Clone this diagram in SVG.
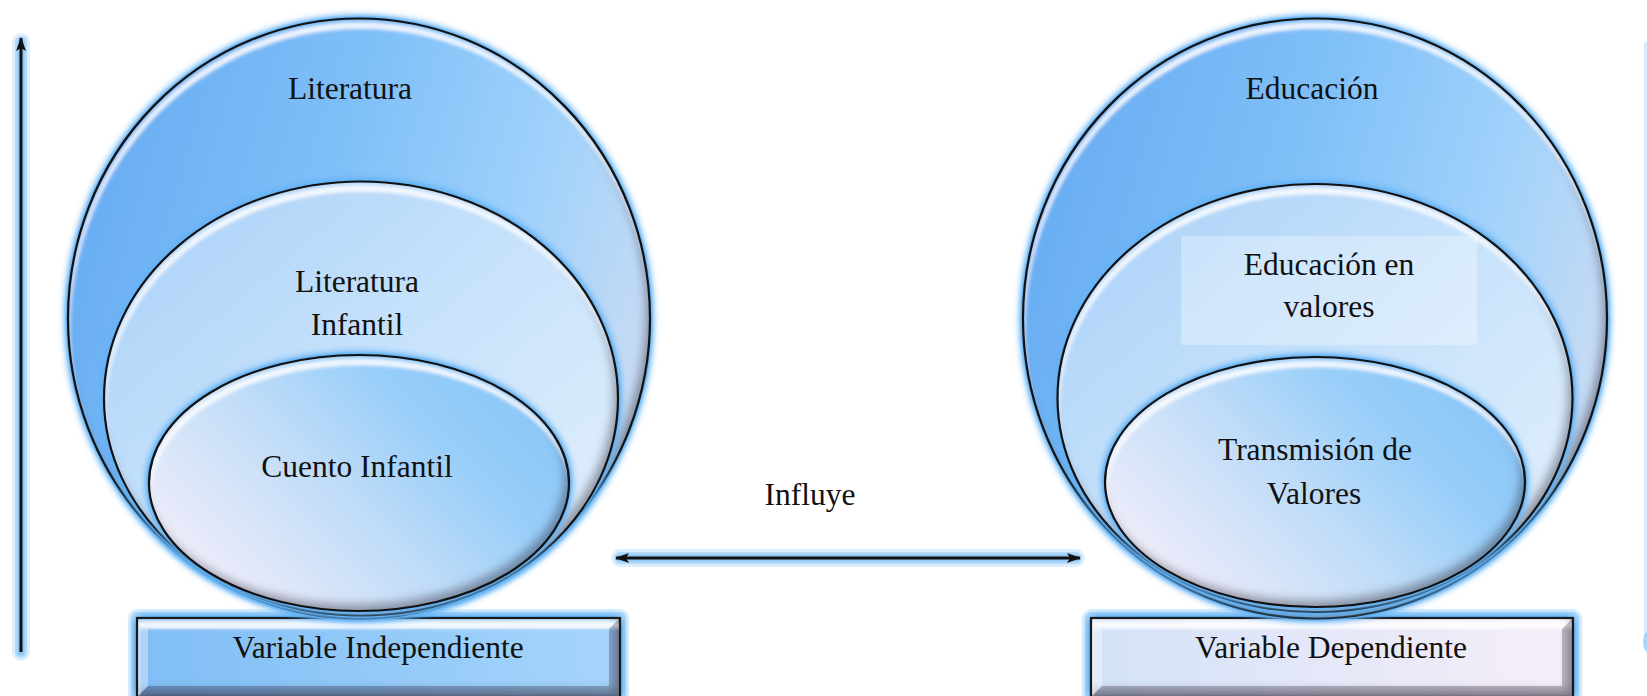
<svg xmlns="http://www.w3.org/2000/svg" width="1647" height="696" viewBox="0 0 1647 696">
<defs>
  <linearGradient id="gOuter" x1="0" y1="0.2" x2="1" y2="0.5">
    <stop offset="0" stop-color="#66abf2"/>
    <stop offset="0.45" stop-color="#80c0f8"/>
    <stop offset="0.75" stop-color="#9ed1fb"/>
    <stop offset="1" stop-color="#c6dbf4"/>
  </linearGradient>
  <linearGradient id="gMid" x1="0" y1="0" x2="1" y2="1">
    <stop offset="0" stop-color="#a8d0f8"/>
    <stop offset="0.5" stop-color="#c9e3fb"/>
    <stop offset="1" stop-color="#e6f1fd"/>
  </linearGradient>
  <linearGradient id="gInner" x1="0" y1="0.8" x2="1" y2="0.2">
    <stop offset="0" stop-color="#f5effa"/>
    <stop offset="0.45" stop-color="#c0dcf8"/>
    <stop offset="0.72" stop-color="#98cef9"/>
    <stop offset="1" stop-color="#86c5f7"/>
  </linearGradient>
  <linearGradient id="gRectL" x1="0" y1="0" x2="1" y2="0">
    <stop offset="0" stop-color="#80bef5"/>
    <stop offset="1" stop-color="#a6d5fb"/>
  </linearGradient>
  <linearGradient id="gRectR" x1="0" y1="0" x2="1" y2="0">
    <stop offset="0" stop-color="#d3e2f8"/>
    <stop offset="1" stop-color="#f7eef8"/>
  </linearGradient>
  <filter id="fx" filterUnits="userSpaceOnUse" x="0" y="0" width="1647" height="720">
    <feGaussianBlur in="SourceAlpha" stdDeviation="5" result="gb0"/>
    <feComponentTransfer in="gb0" result="gb"><feFuncA type="linear" slope="2.6" intercept="0"/></feComponentTransfer>
    <feFlood flood-color="#62b2f5" flood-opacity="1"/>
    <feComposite in2="gb" operator="in" result="glow"/>
    <feComponentTransfer in="SourceAlpha" result="inv"><feFuncA type="table" tableValues="1 0"/></feComponentTransfer>
    <feGaussianBlur in="inv" stdDeviation="5" result="invb"/>
    <feOffset in="invb" dx="-5" dy="-7" result="invo"/>
    <feFlood flood-color="#3a2c48" flood-opacity="0.65"/>
    <feComposite in2="invo" operator="in"/>
    <feComposite in2="SourceAlpha" operator="in" result="shadow"/>
    <feGaussianBlur in="inv" stdDeviation="1.5" result="invb2"/>
    <feOffset in="invb2" dx="2" dy="10" result="hio"/>
    <feOffset in="invb2" dx="1" dy="4" result="hio2"/>
    <feComposite in="hio" in2="hio2" operator="out" result="stripe"/>
    <feGaussianBlur in="stripe" stdDeviation="1.2" result="stripeb"/>
    <feFlood flood-color="#ffffff" flood-opacity="0.85"/>
    <feComposite in2="stripeb" operator="in"/>
    <feComposite in2="SourceAlpha" operator="in" result="hi"/>
    <feMerge><feMergeNode in="glow"/><feMergeNode in="SourceGraphic"/><feMergeNode in="shadow"/><feMergeNode in="hi"/></feMerge>
  </filter>
  <marker id="ah" viewBox="0 0 14 10" refX="13" refY="5" markerWidth="14" markerHeight="10" markerUnits="userSpaceOnUse" orient="auto-start-reverse">
    <path d="M0,0 L14,5 L0,10 L3,5 z" fill="#111"/>
  </marker>
</defs>
<style>
  .t { font-family: "Liberation Serif", "Times New Roman", serif; font-size: 31.5px; fill: #111; text-anchor: middle; }
  .edge { fill: none; stroke: #111; stroke-width: 2.2; }
  .redge { fill: none; stroke: #1a1a1a; stroke-width: 2.2; }
  .bl { fill: #ffffff; opacity: 0.35; }
  .bd { fill: #2a2236; opacity: 0.28; }
  .conn { stroke: #111; stroke-width: 3; fill: none; }
  .h1 { stroke: #9fd0f8; stroke-width: 18; stroke-linecap: round; stroke-linejoin: round; fill: none; opacity: 0.35; }
  .h2 { stroke: #90c9f7; stroke-width: 12; stroke-linecap: round; stroke-linejoin: round; fill: none; opacity: 0.55; }
  .h3 { stroke: #86c4f6; stroke-width: 7; stroke-linecap: round; stroke-linejoin: round; fill: none; opacity: 0.8; }
</style>

<g id="connectors">
  <g id="halos">
    <line class="h1" x1="21" y1="652" x2="21" y2="42"/>
    <line class="h2" x1="21" y1="652" x2="21" y2="42"/>
    <line class="h3" x1="21" y1="652" x2="21" y2="42"/>
    <line class="h1" x1="620" y1="558" x2="1076" y2="558"/>
    <line class="h2" x1="620" y1="558" x2="1076" y2="558"/>
    <line class="h3" x1="620" y1="558" x2="1076" y2="558"/>
    <line x1="1645.5" y1="42" x2="1645.5" y2="636" stroke="#d8ecfd" stroke-width="3"/>
    <ellipse cx="1648" cy="642" rx="5" ry="10" fill="#8cc9f7" opacity="0.75"/>
  </g>
  <line class="conn" x1="21" y1="652" x2="21" y2="38" marker-end="url(#ah)"/>
  <line class="conn" x1="616" y1="558" x2="1080" y2="558" marker-start="url(#ah)" marker-end="url(#ah)"/>
</g>

<g id="var-independiente">
  <rect class="h1" x="137" y="618" width="483" height="79"/>
  <rect class="h2" x="137" y="618" width="483" height="79"/>
  <rect x="137" y="618" width="483" height="79" fill="url(#gRectL)" filter="url(#fx)"/>
  <polygon class="bl" points="137,618 620,618 609,629 148,629"/>
  <polygon class="bl" points="137,618 148,629 148,686 137,697"/>
  <polygon class="bd" points="620,618 609,629 609,686 620,697"/>
  <polygon class="bd" points="137,697 148,686 609,686 620,697"/>
  <rect class="redge" x="137" y="618" width="483" height="79"/>
  <text class="t" x="378" y="658">Variable Independiente</text>
</g>

<g id="literatura">
  <ellipse cx="359" cy="318.5" rx="291" ry="300" fill="url(#gOuter)" filter="url(#fx)"/>
  <ellipse class="edge" cx="359" cy="318.5" rx="291" ry="300"/>
  <text class="t" x="350" y="99">Literatura</text>
</g>

<g id="literatura-infantil">
  <ellipse cx="361" cy="398.5" rx="257" ry="217" fill="url(#gMid)" filter="url(#fx)"/>
  <ellipse class="edge" cx="361" cy="398.5" rx="257" ry="217"/>
  <text class="t" x="357" y="292">Literatura</text>
  <text class="t" x="357" y="335">Infantil</text>
</g>

<g id="cuento-infantil">
  <ellipse cx="359" cy="483" rx="210" ry="128" fill="url(#gInner)" filter="url(#fx)"/>
  <ellipse class="edge" cx="359" cy="483" rx="210" ry="128"/>
  <text class="t" x="357" y="477">Cuento Infantil</text>
</g>

<g id="influye">
  <text class="t" x="810" y="505">Influye</text>
</g>

<g id="var-dependiente">
  <rect class="h1" x="1091" y="618" width="482" height="79"/>
  <rect class="h2" x="1091" y="618" width="482" height="79"/>
  <rect x="1091" y="618" width="482" height="79" fill="url(#gRectR)" filter="url(#fx)"/>
  <polygon class="bl" points="1091,618 1573,618 1562,629 1102,629"/>
  <polygon class="bl" points="1091,618 1102,629 1102,686 1091,697"/>
  <polygon class="bd" points="1573,618 1562,629 1562,686 1573,697"/>
  <polygon class="bd" points="1091,697 1102,686 1562,686 1573,697"/>
  <rect class="redge" x="1091" y="618" width="482" height="79"/>
  <text class="t" x="1331" y="658">Variable Dependiente</text>
</g>

<g id="educacion">
  <ellipse cx="1315" cy="318.5" rx="292" ry="300" fill="url(#gOuter)" filter="url(#fx)"/>
  <ellipse class="edge" cx="1315" cy="318.5" rx="292" ry="300"/>
  <text class="t" x="1312" y="99">Educación</text>
</g>

<g id="educacion-valores">
  <ellipse cx="1315" cy="398" rx="257.5" ry="214" fill="url(#gMid)" filter="url(#fx)"/>
  <ellipse class="edge" cx="1315" cy="398" rx="257.5" ry="214"/>
  <rect x="1181" y="236" width="296" height="109" fill="#ffffff" opacity="0.3"/>
  <text class="t" x="1329" y="275">Educación en</text>
  <text class="t" x="1329" y="317">valores</text>
</g>

<g id="transmision-valores">
  <ellipse cx="1315" cy="482" rx="210" ry="125" fill="url(#gInner)" filter="url(#fx)"/>
  <ellipse class="edge" cx="1315" cy="482" rx="210" ry="125"/>
  <text class="t" x="1315" y="460">Transmisión de</text>
  <text class="t" x="1314" y="504">Valores</text>
</g>
</svg>
